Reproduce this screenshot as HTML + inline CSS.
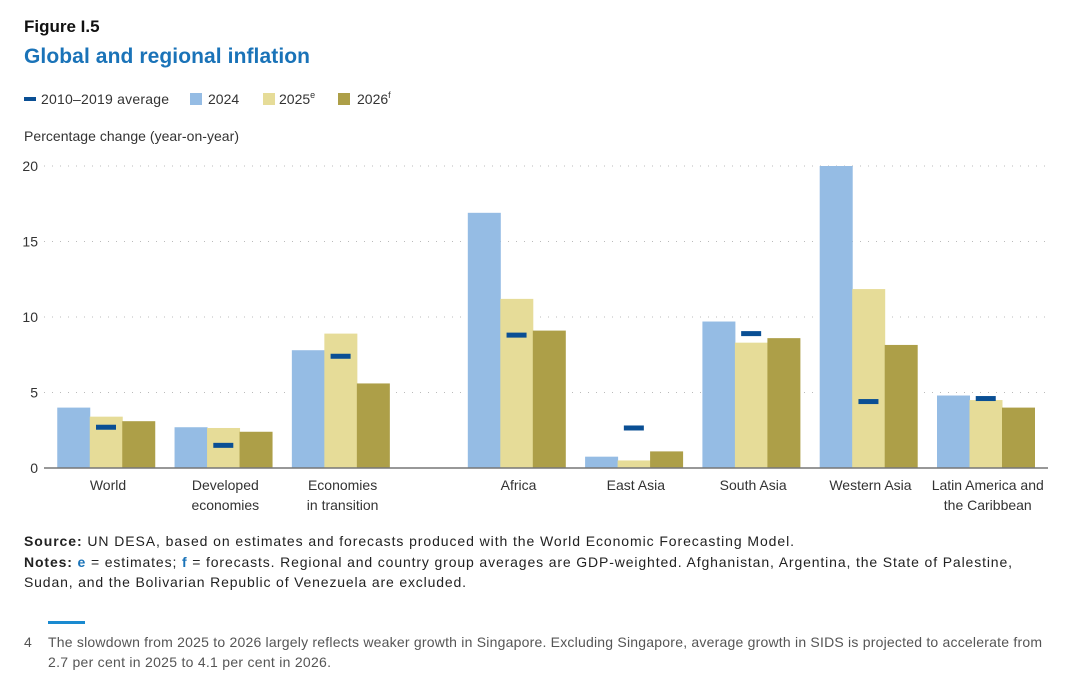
<!DOCTYPE html>
<html><head><meta charset="utf-8"><style>
body{margin:0;background:#fff;}
svg{display:block;font-family:"Liberation Sans",sans-serif;}
</style></head><body>
<svg id="chart" width="1080" height="689" viewBox="0 0 1080 689">
<text x="24" y="32" font-size="17" font-weight="bold" fill="#111">Figure I.5</text>
<text x="24" y="63" font-size="21" font-weight="bold" fill="#1a73b8" textLength="286">Global and regional inflation</text>
<g font-size="14" fill="#333">
<rect x="24" y="97" width="12" height="4" fill="#0a4f94"/>
<text x="41" y="104" textLength="128">2010–2019 average</text>
<rect x="190" y="93" width="12" height="12" fill="#95bce4"/>
<text x="208" y="104">2024</text>
<rect x="263" y="93" width="12" height="12" fill="#e6dc98"/>
<text x="279" y="104">2025<tspan dy="-6" font-size="9">e</tspan></text>
<rect x="338" y="93" width="12" height="12" fill="#ad9f48"/>
<text x="357" y="104">2026<tspan dy="-6" font-size="9">f</tspan></text>
</g>
<text x="24" y="141" font-size="14" fill="#333" textLength="215">Percentage change (year-on-year)</text>
<g id="grid"></g>
<g id="bars"></g>
<g id="cats"></g>
<line x1="44" y1="468" x2="1048" y2="468" stroke="#777" stroke-width="1.5"/>
<g font-size="14" fill="#222">
<text x="24" y="546" textLength="770"><tspan font-weight="bold">Source:</tspan> UN DESA, based on estimates and forecasts produced with the World Economic Forecasting Model.</text>
<text x="24" y="567" textLength="988"><tspan font-weight="bold">Notes: </tspan><tspan font-weight="bold" fill="#1a73b8">e</tspan> = estimates; <tspan font-weight="bold" fill="#1a73b8">f</tspan> = forecasts. Regional and country group averages are GDP-weighted. Afghanistan, Argentina, the State of Palestine,</text>
<text x="24" y="587" textLength="442">Sudan, and the Bolivarian Republic of Venezuela are excluded.</text>
</g>
<rect x="48" y="621" width="37" height="3" fill="#1a8ad0"/>
<g font-size="14" fill="#555">
<text x="24" y="647">4</text>
<text x="48" y="647" textLength="994">The slowdown from 2025 to 2026 largely reflects weaker growth in Singapore. Excluding Singapore, average growth in SIDS is projected to accelerate from</text>
<text x="48" y="667" textLength="283">2.7 per cent in 2025 to 4.1 per cent in 2026.</text>
</g>
</svg>
<script>
const categories=[["World"],["Developed","economies"],["Economies","in transition"],["Africa"],["East Asia"],["South Asia"],["Western Asia"],["Latin America and","the Caribbean"]];
const slots=[0,1,2,3.5,4.5,5.5,6.5,7.5];
const v2024=[4.0,2.7,7.8,16.9,0.75,9.7,20.0,4.8];
const v2025=[3.4,2.65,8.9,11.2,0.5,8.3,11.85,4.5];
const v2026=[3.1,2.4,5.6,9.1,1.1,8.6,8.15,4.0];
const avg=[2.7,1.5,7.4,8.8,2.65,8.9,4.4,4.6];
const ticks=[0,5,10,15,20];
const NS="http://www.w3.org/2000/svg";
const y=v=>468-v*15.1;
const cx=s=>106+s*117.3;
function mk(t,a,p){const e=document.createElementNS(NS,t);for(const k in a)e.setAttribute(k,a[k]);p.appendChild(e);return e;}
const grid=document.getElementById('grid'),bars=document.getElementById('bars'),cats=document.getElementById('cats');
ticks.forEach(t=>{
 if(t>0){const l=mk('line',{x1:44,x2:1048,y1:y(t),y2:y(t),stroke:'#bbb','stroke-dasharray':'1 7'},grid);
 
 }
 const tx=mk('text',{x:38,y:y(t)+5,'text-anchor':'end','font-size':14,fill:'#333'},grid);
 tx.textContent=t;
 
 
});
const series=[[v2024,'#95bce4','2024'],[v2025,'#e6dc98','2025'],[v2026,'#ad9f48','2026']];
const bw=32.5;
categories.forEach((c,i)=>{
 const c0=cx(slots[i]);
 series.forEach((s,j)=>{
  const v=s[0][i];
  const r=mk('rect',{x:c0-1.5*bw+j*bw,y:y(v),width:bw+0.5,height:468-y(v),fill:s[1]},bars);
  
  
 });
 const m=mk('rect',{x:c0-10,y:y(avg[i])-2.5,width:20,height:5,fill:'#0a4f94'},bars);
 
 
 c.forEach((ln,k)=>{
  const t=mk('text',{x:c0+2,y:490+k*20,'text-anchor':'middle','font-size':14,fill:'#333'},cats);
  t.textContent=ln;
  
  
 });
});
</script>
</body></html>
